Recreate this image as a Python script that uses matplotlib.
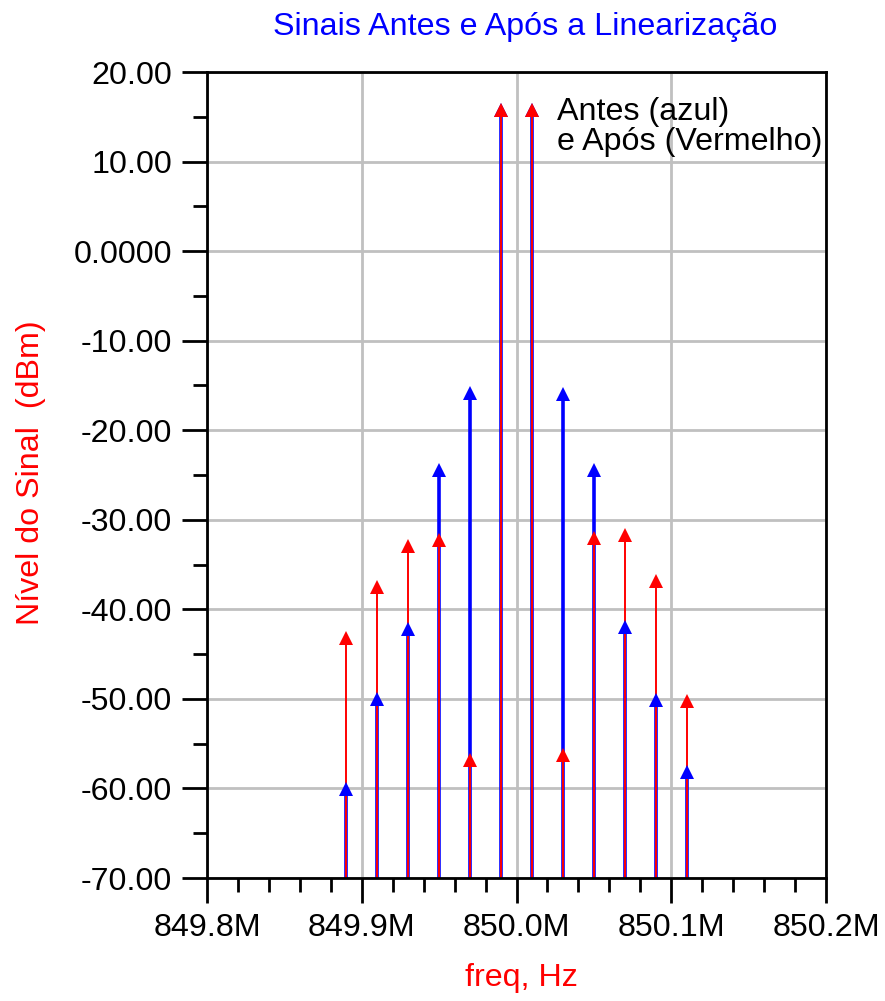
import numpy as np
import matplotlib.pyplot as plt
from matplotlib.ticker import MultipleLocator, FuncFormatter

plt.rcParams['font.family'] = ['Liberation Sans', 'DejaVu Sans']

# tone frequencies (MHz) and levels (dBm) before / after linearization
freq_mhz = [849.89, 849.91, 849.93, 849.95, 849.97, 849.99,
            850.01, 850.03, 850.05, 850.07, 850.09, 850.11]
antes_dbm = [-60.1, -50.0, -42.2, -24.4, -15.8, 15.8,
             15.8, -15.9, -24.4, -42.0, -50.1, -58.2]
apos_dbm = [-43.2, -37.5, -32.9, -32.3, -56.8, 15.8,
            15.8, -56.3, -32.0, -31.7, -36.8, -50.2]

y_floor = -70.0
freq = np.array(freq_mhz) * 1e6
fs = 23.2

fig = plt.figure(figsize=(8.85, 10.01), dpi=100)
ax = fig.add_axes([207 / 885, 1 - 878 / 1001, (826 - 207) / 885, (878 - 72) / 1001])

# stems: wide blue first, thin red on top, then the arrow heads
ax.vlines(freq, y_floor, antes_dbm, color='#0000ff', lw=2.6, zorder=3)
ax.vlines(freq, y_floor, apos_dbm, color='#ff0000', lw=1.4, zorder=4)
ax.plot(freq, antes_dbm, '^', color='#0000ff', ms=10.5, mew=0, zorder=5)
ax.plot(freq, apos_dbm, '^', color='#ff0000', ms=10.5, mew=0, zorder=6)

ax.set_xlim(849.8e6, 850.2e6)
ax.set_ylim(-70, 20)
ax.xaxis.set_major_locator(MultipleLocator(0.1e6))
ax.xaxis.set_minor_locator(MultipleLocator(0.02e6))
ax.yaxis.set_major_locator(MultipleLocator(10))
ax.yaxis.set_minor_locator(MultipleLocator(5))
ax.xaxis.set_major_formatter(FuncFormatter(lambda v, p: f'{v / 1e6:.1f}M'))
ax.yaxis.set_major_formatter(
    FuncFormatter(lambda v, p: '0.0000' if abs(v) < 1e-9 else f'{v:.2f}'))

ax.grid(True, which='major', color='#c0c0c0', lw=2.0)
ax.set_axisbelow(True)
for s in ax.spines.values():
    s.set_linewidth(2.0)
    s.set_zorder(7)

ax.tick_params(which='major', direction='out', length=18, width=2.0,
               labelsize=fs, pad=7)
ax.tick_params(which='minor', direction='out', length=10, width=2.0)
ax.tick_params(top=False, right=False, which='both')

fig.text(525 / 885, 1 - 27 / 1001, 'Sinais Antes e Após a Linearização',
         color='#0000ff', fontsize=fs, ha='center', va='center')
fig.text(31 / 885, 1 - 473 / 1001, 'Nível do Sinal  (dBm)', color='#ff0000',
         fontsize=fs, rotation=90, ha='center', va='center')
fig.text(521 / 885, 1 - 978 / 1001, 'freq, Hz', color='#ff0000',
         fontsize=fs, ha='center', va='center')
fig.text(557 / 885, 1 - 127 / 1001, 'Antes (azul)\ne Após (Vermelho)',
         color='black', fontsize=fs, ha='left', va='center', linespacing=1.0)

fig.savefig('out.png', dpi=100)
